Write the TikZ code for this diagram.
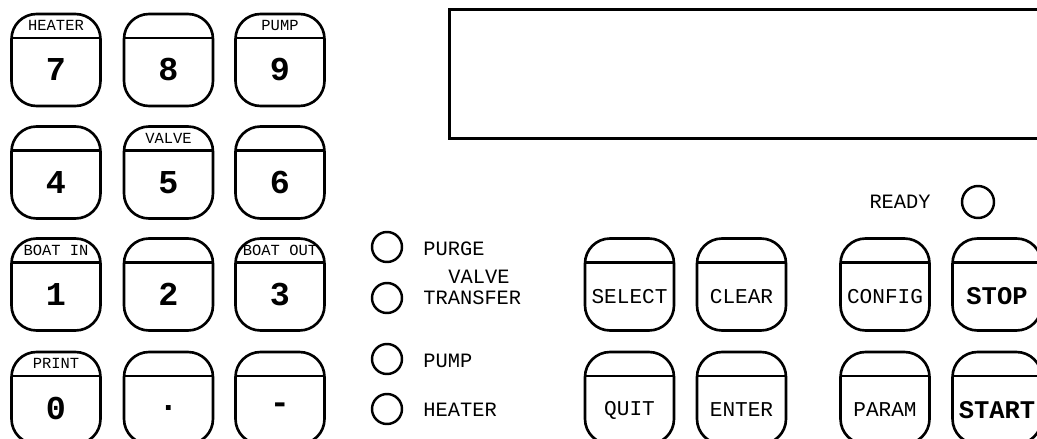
\documentclass[tikz,border=0pt]{standalone}
\usepackage{fontspec}
\newfontfamily\panelfont{Liberation Mono}
\usepackage{tikz}
\usetikzlibrary{positioning, calc}

\tikzset{
  keybox/.style={rectangle, draw, line width=1.5pt, rounded corners=0.5cm,
    minimum width=1.78cm, minimum height=1.84cm, inner sep=0pt,
    path picture={\draw[line width=1.5pt]
      ([yshift=-0.48cm]path picture bounding box.north west) --
      ([yshift=-0.48cm]path picture bounding box.north east);}},
  keytag/.style={font=\panelfont\fontsize{8.8}{9}\selectfont, inner sep=0pt},
  keynum/.style={font=\panelfont\bfseries\fontsize{19}{19}\selectfont, inner sep=0pt},
  keyword/.style={font=\panelfont\fontsize{12}{12}\selectfont, inner sep=0pt},
  keybold/.style={font=\panelfont\bfseries\fontsize{14.5}{14.5}\selectfont, inner sep=0pt},
  led/.style={circle, draw, line width=1.4pt, minimum size=0.6cm, inner sep=0pt},
  ledtext/.style={font=\panelfont\fontsize{11.6}{12}\selectfont, inner sep=0pt, anchor=west},
}

\begin{document}
\begin{tikzpicture}[x=0.02cm, y=-0.02cm]
\clip (0,0) rectangle (1037,439);

% --- Display ---
\node[rectangle, draw, line width=1.5pt, anchor=north west, inner sep=0pt,
  minimum width=11.94cm, minimum height=2.58cm] (display) at (448,8) {};

% --- Keypad, row 1 ---
\node[keybox] (k7) at (56,60) {};
\node[keybox] (k8) at (168.5,60) {};
\node[keybox] (k9) at (280,60) {};
\node[keytag] (k7tag) at ([yshift=-0.26cm]k7.north) {HEATER};
\node[keytag] (k9tag) at ([yshift=-0.26cm]k9.north) {PUMP};
\node[keynum] (k7num) at ([yshift=-0.2cm]k7.center) {7};
\node[keynum] (k8num) at ([yshift=-0.2cm]k8.center) {8};
\node[keynum] (k9num) at ([yshift=-0.2cm]k9.center) {9};

% --- Keypad, row 2 ---
\node[keybox] (k4) at (56,172.5) {};
\node[keybox] (k5) at (168.5,172.5) {};
\node[keybox] (k6) at (280,172.5) {};
\node[keytag] (k5tag) at ([yshift=-0.26cm]k5.north) {VALVE};
\node[keynum] (k4num) at ([yshift=-0.2cm]k4.center) {4};
\node[keynum] (k5num) at ([yshift=-0.2cm]k5.center) {5};
\node[keynum] (k6num) at ([yshift=-0.2cm]k6.center) {6};

% --- Keypad, row 3 ---
\node[keybox] (k1) at (56,284.5) {};
\node[keybox] (k2) at (168.5,284.5) {};
\node[keybox] (k3) at (280,284.5) {};
\node[keytag] (k1tag) at ([yshift=-0.26cm]k1.north) {BOAT IN};
\node[keytag] (k3tag) at ([yshift=-0.26cm]k3.north) {BOAT OUT};
\node[keynum] (k1num) at ([yshift=-0.2cm]k1.center) {1};
\node[keynum] (k2num) at ([yshift=-0.2cm]k2.center) {2};
\node[keynum] (k3num) at ([yshift=-0.2cm]k3.center) {3};

% --- Keypad, row 4 ---
\node[keybox] (k0) at (56,398) {};
\node[keybox] (kdot) at (168.5,398) {};
\node[keybox] (kminus) at (280,398) {};
\node[keytag] (k0tag) at ([yshift=-0.26cm]k0.north) {PRINT};
\node[keynum] (k0num) at ([yshift=-0.2cm]k0.center) {0};
\node[keynum] (kdotnum) at ([yshift=-0.2cm]kdot.center) {.};
\node[keynum] (kminusnum) at ([yshift=-0.2cm]kminus.center) {-};

% --- Status lamps ---
\node[led] (purge) at (387,247) {};
\node[led] (transfer) at (387,298) {};
\node[led] (pump) at (387,359) {};
\node[led] (heater) at (387,409) {};
\node[led, minimum size=0.64cm] (ready) at (978,202) {};
\node[ledtext] (purgetxt) at (423,249) {PURGE};
\node[ledtext] (valvetxt) at (448,277) {VALVE};
\node[ledtext] (transfertxt) at (423,298) {TRANSFER};
\node[ledtext] (pumptxt) at (423,361) {PUMP};
\node[ledtext] (heatertxt) at (423,410) {HEATER};
\node[ledtext, anchor=east] (readytxt) at (931,202) {READY};

% --- Function keys ---
\node[keybox] (select) at (629.5,284.5) {};
\node[keybox] (clear) at (741.5,284.5) {};
\node[keybox] (config) at (885,284.5) {};
\node[keybox] (stop) at (997,284.5) {};
\node[keybox] (quit) at (629.5,398) {};
\node[keybox] (enter) at (741.5,398) {};
\node[keybox] (param) at (885,398) {};
\node[keybox] (start) at (997,398) {};
\node[keyword] (selecttxt) at ([yshift=-0.24cm]select.center) {SELECT};
\node[keyword] (cleartxt) at ([yshift=-0.24cm]clear.center) {CLEAR};
\node[keyword] (configtxt) at ([yshift=-0.24cm]config.center) {CONFIG};
\node[keybold] (stoptxt) at ([yshift=-0.24cm]stop.center) {STOP};
\node[keyword] (quittxt) at ([yshift=-0.24cm]quit.center) {QUIT};
\node[keyword] (entertxt) at ([yshift=-0.24cm]enter.center) {ENTER};
\node[keyword] (paramtxt) at ([yshift=-0.24cm]param.center) {PARAM};
\node[keybold] (starttxt) at ([yshift=-0.24cm]start.center) {START};

\end{tikzpicture}
\end{document}
